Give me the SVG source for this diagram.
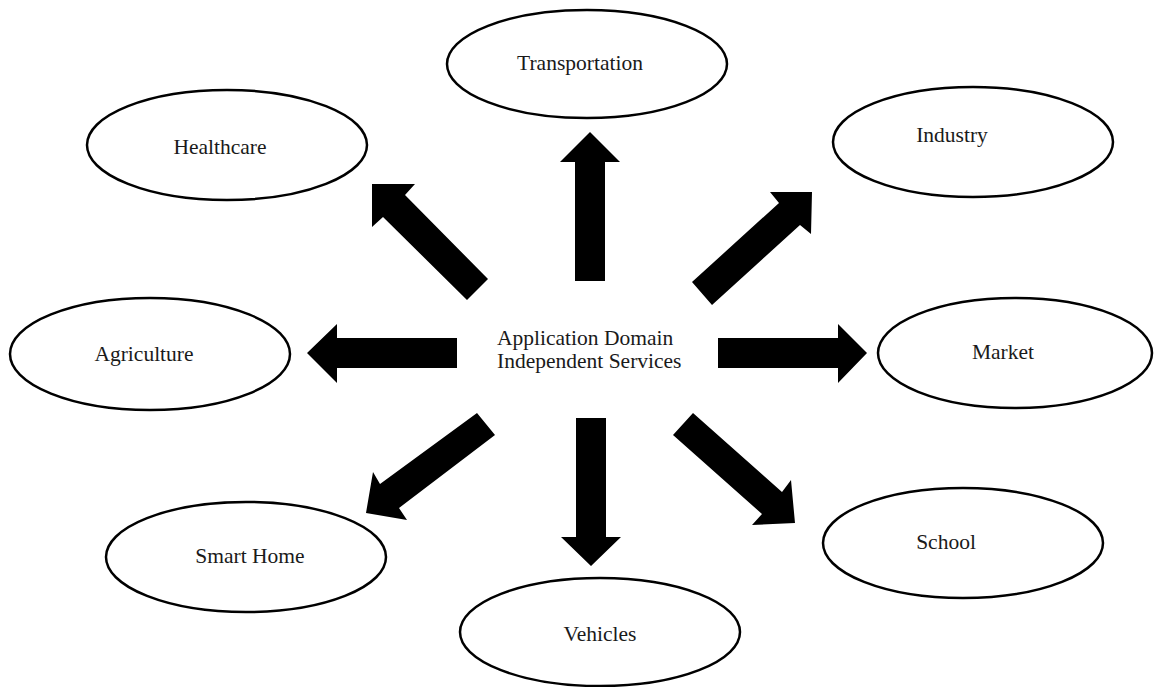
<svg xmlns="http://www.w3.org/2000/svg" width="1154" height="687" viewBox="0 0 1154 687">
<style>
.n ellipse{fill:#fff;stroke:#000;stroke-width:2.5}
.n text,.c text{font-family:"Liberation Serif","Times New Roman",serif;font-size:21.5px;fill:#1a1a1a}
.n text{text-anchor:middle}
.a polygon{fill:#000}
</style>
<rect width="1154" height="687" fill="#fff"/>
<g id="center" class="c"><text x="497" y="345">Application Domain</text><text x="497" y="368">Independent Services</text></g>
<g id="connectors" class="a">
<polygon points="590,132 620,162 605,162 605,281 575,281 575,162 560,162"/>
<polygon points="576,418 606,418 606,537 621,537 591,566 561,537 576,537"/>
<polygon points="307,353 337,324 337,338 457,338 457,368 337,368 337,383"/>
<polygon points="718,338 838,338 838,324 867,353 838,383 838,368 718,368"/>
<polygon points="372,184 415,184 405,195 488,279 467,300 383,217 372,227"/>
<polygon points="812,192 811,234 800,225 712,305 692,282 779,203 770,192"/>
<polygon points="477,413 495,435 399,508 407,520 366,513 373,472 380,484"/>
<polygon points="693,413 782,492 791,480 795,523 752,525 762,514 673,435"/>
</g>
<g id="transportation" class="n"><ellipse cx="587" cy="64" rx="140" ry="54"/><text x="580" y="70">Transportation</text></g>
<g id="healthcare" class="n"><ellipse cx="227" cy="145" rx="140" ry="55"/><text x="220" y="154">Healthcare</text></g>
<g id="industry" class="n"><ellipse cx="973" cy="142" rx="140" ry="55"/><text x="952" y="142">Industry</text></g>
<g id="agriculture" class="n"><ellipse cx="150" cy="354" rx="140" ry="56"/><text x="144" y="361">Agriculture</text></g>
<g id="market" class="n"><ellipse cx="1015" cy="353" rx="137" ry="55"/><text x="1003" y="359">Market</text></g>
<g id="smarthome" class="n"><ellipse cx="246" cy="557" rx="140" ry="55"/><text x="250" y="563">Smart Home</text></g>
<g id="school" class="n"><ellipse cx="963" cy="543" rx="140" ry="55"/><text x="946" y="549">School</text></g>
<g id="vehicles" class="n"><ellipse cx="600" cy="632" rx="140" ry="54"/><text x="600" y="641">Vehicles</text></g>
</svg>
